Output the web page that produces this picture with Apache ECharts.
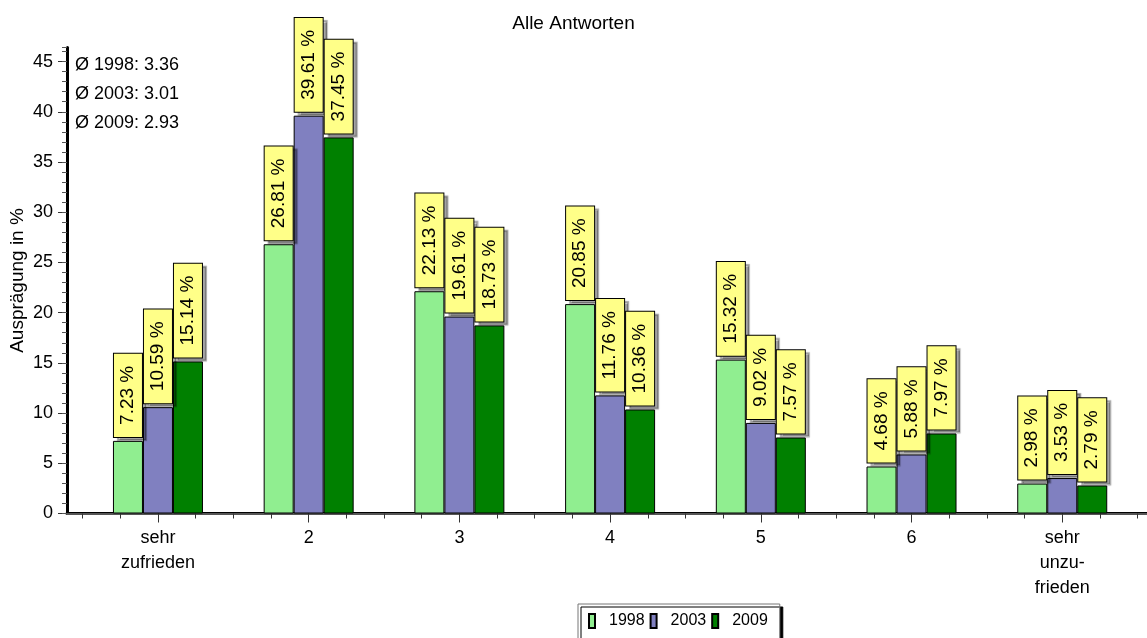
<!DOCTYPE html>
<html>
<head>
<meta charset="utf-8">
<script src="https://cdn.jsdelivr.net/npm/echarts@6/dist/echarts.min.js"></script>
<style>
  html, body { margin: 0; padding: 0; background: #fff; }
  #chart { width: 1147px; height: 638px; }
</style>
</head>
<body>
<div id="chart"></div>
<script>
// Answer categories (1 = sehr zufrieden ... 7 = sehr unzufrieden)
const categories = ['sehr\nzufrieden', '2', '3', '4', '5', '6', 'sehr\nunzu-\nfrieden'];
const seriesNames = ['1998', '2003', '2009'];
const values1998 = [7.23, 26.81, 22.13, 20.85, 15.32, 4.68, 2.98];
const values2003 = [10.59, 39.61, 19.61, 11.76, 9.02, 5.88, 3.53];
const values2009 = [15.14, 37.45, 18.73, 10.36, 7.57, 7.97, 2.79];
const averages = [3.36, 3.01, 2.93];
const yTicks = [0, 5, 10, 15, 20, 25, 30, 35, 40, 45];
const yMax = 46.4;

const FONT = "'Liberation Sans', Arial, sans-serif";
const colors = ['#90EE90', '#8080C0', '#008000'];
const seriesValues = [values1998, values2003, values2009];

const chart = echarts.init(document.getElementById('chart'), null, { renderer: 'canvas' });

const plotTop = 47.5;
const plotBottom = 124.5;

const option = {
  animation: false,
  title: {
    text: 'Alle Antworten',
    left: 'center',
    top: 9,
    textStyle: { fontFamily: FONT, fontSize: 19, fontWeight: 'normal', color: '#000' }
  },
  legend: {
    data: seriesNames,
    left: 578,
    top: 604,
    orient: 'horizontal',
    padding: [9, 12, 10, 10],
    itemWidth: 6,
    itemHeight: 14,
    itemGap: 5,
    icon: 'rect',
    backgroundColor: '#fff',
    borderColor: '#777',
    borderWidth: 1,
    shadowColor: '#000',
    shadowBlur: 0,
    shadowOffsetX: 3,
    shadowOffsetY: 3,
    textStyle: { fontFamily: FONT, fontSize: 16, color: '#000', padding: [0, 0, 0, 9] }
  },
  grid: [
    // frame of the plot area (axis lines)
    { left: 67, right: 0, top: plotTop, bottom: plotBottom, containLabel: false, outerBoundsMode: 'none' },
    // band where the category groups sit
    { left: 82.6, right: 9.4, top: plotTop, bottom: plotBottom, containLabel: false, outerBoundsMode: 'none' }
  ],
  xAxis: [
    {
      gridIndex: 0, type: 'value', position: 'bottom', min: 0, max: 1,
      axisLine: { show: true, lineStyle: { color: '#000', width: 3 } },
      axisTick: { show: false }, axisLabel: { show: false }, splitLine: { show: false }
    },
    {
      gridIndex: 0, type: 'value', position: 'top', min: 0, max: 1,
      axisLine: { show: true, lineStyle: { color: '#555', width: 2 } },
      axisTick: { show: false }, axisLabel: { show: false }, splitLine: { show: false }
    },
    {
      gridIndex: 1, type: 'category', position: 'bottom', data: categories,
      axisLine: { show: false },
      axisTick: { show: true, alignWithLabel: true, length: 9, lineStyle: { color: '#333', width: 1 } },
      axisLabel: { margin: 12, fontFamily: FONT, fontSize: 18, lineHeight: 25, color: '#000' }
    },
    {
      // quarter-band ticks along the category axis
      gridIndex: 1, type: 'value', position: 'bottom', min: 0, max: categories.length * 4, interval: 1,
      axisLine: { show: false },
      axisTick: { show: true, length: 5, lineStyle: { color: '#333', width: 1 } },
      axisLabel: { show: false }, splitLine: { show: false }
    }
  ],
  yAxis: [
    {
      gridIndex: 0, type: 'value', position: 'left', min: 0, max: yMax, interval: 5,
      name: 'Ausprägung in %',
      nameLocation: 'middle',
      nameRotate: 90,
      nameGap: 40,
      nameMoveOverlap: false,
      nameTextStyle: { fontFamily: FONT, fontSize: 19, color: '#000' },
      axisLine: { show: true, lineStyle: { color: '#000', width: 3 } },
      axisTick: { show: true, length: 9, customValues: yTicks, lineStyle: { color: '#333', width: 1 } },
      axisLabel: {
        margin: 14, fontFamily: FONT, fontSize: 18, color: '#000',
        formatter: v => (yTicks.indexOf(v) >= 0 ? String(v) : '')
      },
      splitLine: { show: false }
    },
    {
      // unit ticks
      gridIndex: 0, type: 'value', position: 'left', min: 0, max: yMax, interval: 1,
      axisLine: { show: false },
      axisTick: { show: true, length: 5, lineStyle: { color: '#555', width: 1 } },
      axisLabel: { show: false }, splitLine: { show: false }
    },
    {
      gridIndex: 1, type: 'value', min: 0, max: yMax, show: false, splitLine: { show: false }
    }
  ],
  graphic: averages.map((avg, i) => ({
    type: 'text',
    left: 75,
    top: 56 + i * 29,
    style: {
      text: 'Ø ' + seriesNames[i] + ': ' + avg.toFixed(2),
      font: '18px ' + FONT,
      fill: '#000'
    },
    z: 10
  })),
  series: seriesNames.map((name, i) => ({
    name: name,
    type: 'bar',
    xAxisIndex: 2,
    yAxisIndex: 2,
    data: seriesValues[i],
    barWidth: 30,
    barGap: '0%',
    itemStyle: { color: colors[i], borderColor: '#000', borderWidth: 1 },
    label: {
      show: true,
      position: 'top',
      distance: 4,
      rotate: 90,
      align: 'left',
      verticalAlign: 'middle',
      formatter: p => p.value.toFixed(2) + ' %',
      fontFamily: FONT,
      fontSize: 19,
      lineHeight: 20,
      color: '#000',
      backgroundColor: '#FFFF88',
      borderColor: '#000',
      borderWidth: 1,
      padding: [4, 12, 4, 12],
      shadowColor: 'rgba(0,0,0,0.35)',
      shadowBlur: 1,
      shadowOffsetX: 4,
      shadowOffsetY: 3
    },
    emphasis: { disabled: true }
  }))
};

chart.setOption(option);
</script>
</body>
</html>
